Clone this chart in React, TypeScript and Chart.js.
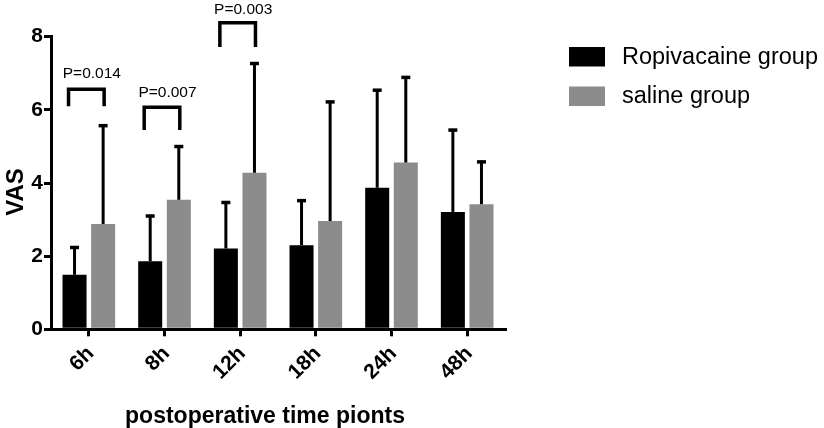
import React, { useEffect, useRef } from "react";
import { Chart, registerables } from "chart.js";

Chart.register(...registerables);

const categories = ["6h", "8h", "12h", "18h", "24h", "48h"];
const ropiMean = [1.49, 1.86, 2.21, 2.3, 3.87, 3.21];
const ropiSD = [0.78, 1.27, 1.29, 1.25, 2.7, 2.27];
const salineMean = [2.88, 3.54, 4.28, 2.96, 4.56, 3.42];
const salineSD = [2.72, 1.49, 3.02, 3.29, 2.36, 1.19];
const seriesNames = ["Ropivacaine group", "saline group"];
const seriesColors = ["#000000", "#8c8c8c"];

const pLabels = ["P=0.014", "P=0.007", "P=0.003"];
const pIndex = [0, 1, 2];
const bracketTop = [6.56, 6.07, 8.38];
const bracketBottom = [6.1, 5.45, 7.72];
const pLabelY = [6.86, 6.34, 8.63];

const yTicks = [0, 2, 4, 6, 8];
const xTitle = "postoperative time pionts";
const yTitle = "VAS";

const FONT = "'Liberation Sans', Arial, sans-serif";

const errorBarPlugin = {
  id: "errorBars",
  afterDatasetsDraw(chart: any) {
    const ctx = chart.ctx;
    const y = chart.scales.y;
    const sds = [ropiSD, salineSD];
    const means = [ropiMean, salineMean];
    ctx.save();
    ctx.strokeStyle = "#000";
    ctx.lineCap = "butt";
    chart.data.datasets.forEach((ds: any, i: number) => {
      const meta = chart.getDatasetMeta(i);
      meta.data.forEach((el: any, j: number) => {
        const top = y.getPixelForValue(means[i][j] + sds[i][j]);
        ctx.lineWidth = 3;
        ctx.beginPath();
        ctx.moveTo(el.x, el.y);
        ctx.lineTo(el.x, top);
        ctx.stroke();
        ctx.lineWidth = 3.5;
        ctx.beginPath();
        ctx.moveTo(el.x - 4.5, top + 1.2);
        ctx.lineTo(el.x + 4.5, top + 1.2);
        ctx.stroke();
      });
    });
    ctx.restore();
  },
};

const bracketPlugin = {
  id: "brackets",
  afterDraw(chart: any) {
    const ctx = chart.ctx;
    const y = chart.scales.y;
    const m0 = chart.getDatasetMeta(0);
    const m1 = chart.getDatasetMeta(1);
    ctx.save();
    ctx.strokeStyle = "#000";
    ctx.fillStyle = "#000";
    ctx.lineWidth = 3.5;
    ctx.lineJoin = "miter";
    ctx.lineCap = "butt";
    pLabels.forEach((lab, k) => {
      const idx = pIndex[k];
      const a = m0.data[idx];
      const b = m1.data[idx];
      const xl = a.x - 6;
      const xr = b.x + 1;
      const yt = y.getPixelForValue(bracketTop[k]);
      const yb = y.getPixelForValue(bracketBottom[k]);
      ctx.beginPath();
      ctx.moveTo(xl, yb);
      ctx.lineTo(xl, yt);
      ctx.lineTo(xr, yt);
      ctx.lineTo(xr, yb);
      ctx.stroke();
      ctx.font = `15.5px ${FONT}`;
      ctx.textAlign = "center";
      ctx.textBaseline = "alphabetic";
      ctx.fillText(lab, (a.x + b.x) / 2 + 3, y.getPixelForValue(pLabelY[k]));
    });
    ctx.restore();
  },
};

const titlesPlugin = {
  id: "axisTitles",
  afterDraw(chart: any) {
    const ctx = chart.ctx;
    const area = chart.chartArea;
    ctx.save();
    ctx.fillStyle = "#000";
    ctx.font = `bold 23px ${FONT}`;
    ctx.textAlign = "center";
    ctx.textBaseline = "alphabetic";
    ctx.fillText(xTitle, (area.left + area.right) / 2 - 13, chart.height - 5);
    ctx.translate(23, (area.top + area.bottom) / 2 + 9);
    ctx.rotate(-Math.PI / 2);
    ctx.font = `bold 24px ${FONT}`;
    ctx.fillText(yTitle, 0, 0);
    ctx.restore();
  },
};

const legendPlugin = {
  id: "customLegend",
  afterDraw(chart: any) {
    const ctx = chart.ctx;
    const area = chart.chartArea;
    const bx = area.right + 64;
    ctx.save();
    chart.data.datasets.forEach((ds: any, i: number) => {
      const by = 47 + i * 39.5;
      ctx.fillStyle = ds.backgroundColor;
      ctx.fillRect(bx, by, 36, 19.5);
      ctx.fillStyle = "#000";
      ctx.font = `23.5px ${FONT}`;
      ctx.textAlign = "left";
      ctx.textBaseline = "middle";
      ctx.fillText(ds.label, bx + 53, by + 10.5);
    });
    ctx.restore();
  },
};

export default function App() {
  const ref = useRef<HTMLCanvasElement | null>(null);
  useEffect(() => {
    if (!ref.current) return;
    const chart = new Chart(ref.current, {
      type: "bar",
      data: {
        labels: categories,
        datasets: [
          {
            label: seriesNames[0],
            data: ropiMean,
            backgroundColor: seriesColors[0],
            categoryPercentage: 0.756,
            barPercentage: 0.84,
          },
          {
            label: seriesNames[1],
            data: salineMean,
            backgroundColor: seriesColors[1],
            categoryPercentage: 0.756,
            barPercentage: 0.84,
          },
        ],
      },
      options: {
        animation: false,
        responsive: false,
        devicePixelRatio: 1,
        layout: { padding: { left: 0, top: 36.7, right: 319, bottom: 0 } },
        plugins: {
          legend: { display: false },
          tooltip: { enabled: false },
        },
        scales: {
          x: {
            offset: true,
            grid: {
              offset: false,
              display: true,
              drawOnChartArea: false,
              drawTicks: true,
              tickLength: 7,
              lineWidth: 3,
              color: "#000",
            },
            border: { display: true, width: 3, color: "#000" },
            ticks: {
              color: "#000",
              font: { family: FONT, size: 21, weight: "bold" },
              maxRotation: 45,
              minRotation: 45,
              padding: 5,
              labelOffset: 2,
            },
            afterFit(scale: any) {
              scale.height = 428 - 329.3;
            },
          },
          y: {
            min: 0,
            max: 8,
            afterBuildTicks(scale: any) {
              scale.ticks = yTicks.map((v) => ({ value: v }));
            },
            grid: {
              display: true,
              drawOnChartArea: false,
              drawTicks: true,
              tickLength: 7,
              lineWidth: 3,
              color: "#000",
            },
            border: { display: true, width: 3, color: "#000" },
            ticks: {
              color: "#000",
              font: { family: FONT, size: 21, weight: "bold" },
              padding: 1,
            },
            afterFit(scale: any) {
              scale.width = 51;
            },
          },
        },
      },
      plugins: [errorBarPlugin, bracketPlugin, titlesPlugin, legendPlugin],
    });
    return () => chart.destroy();
  }, []);
  return (
    <div style={{ position: "fixed", left: 0, top: 0, width: 824, height: 428, background: "#fff" }}>
      <canvas ref={ref} width={824} height={428} />
    </div>
  );
}
